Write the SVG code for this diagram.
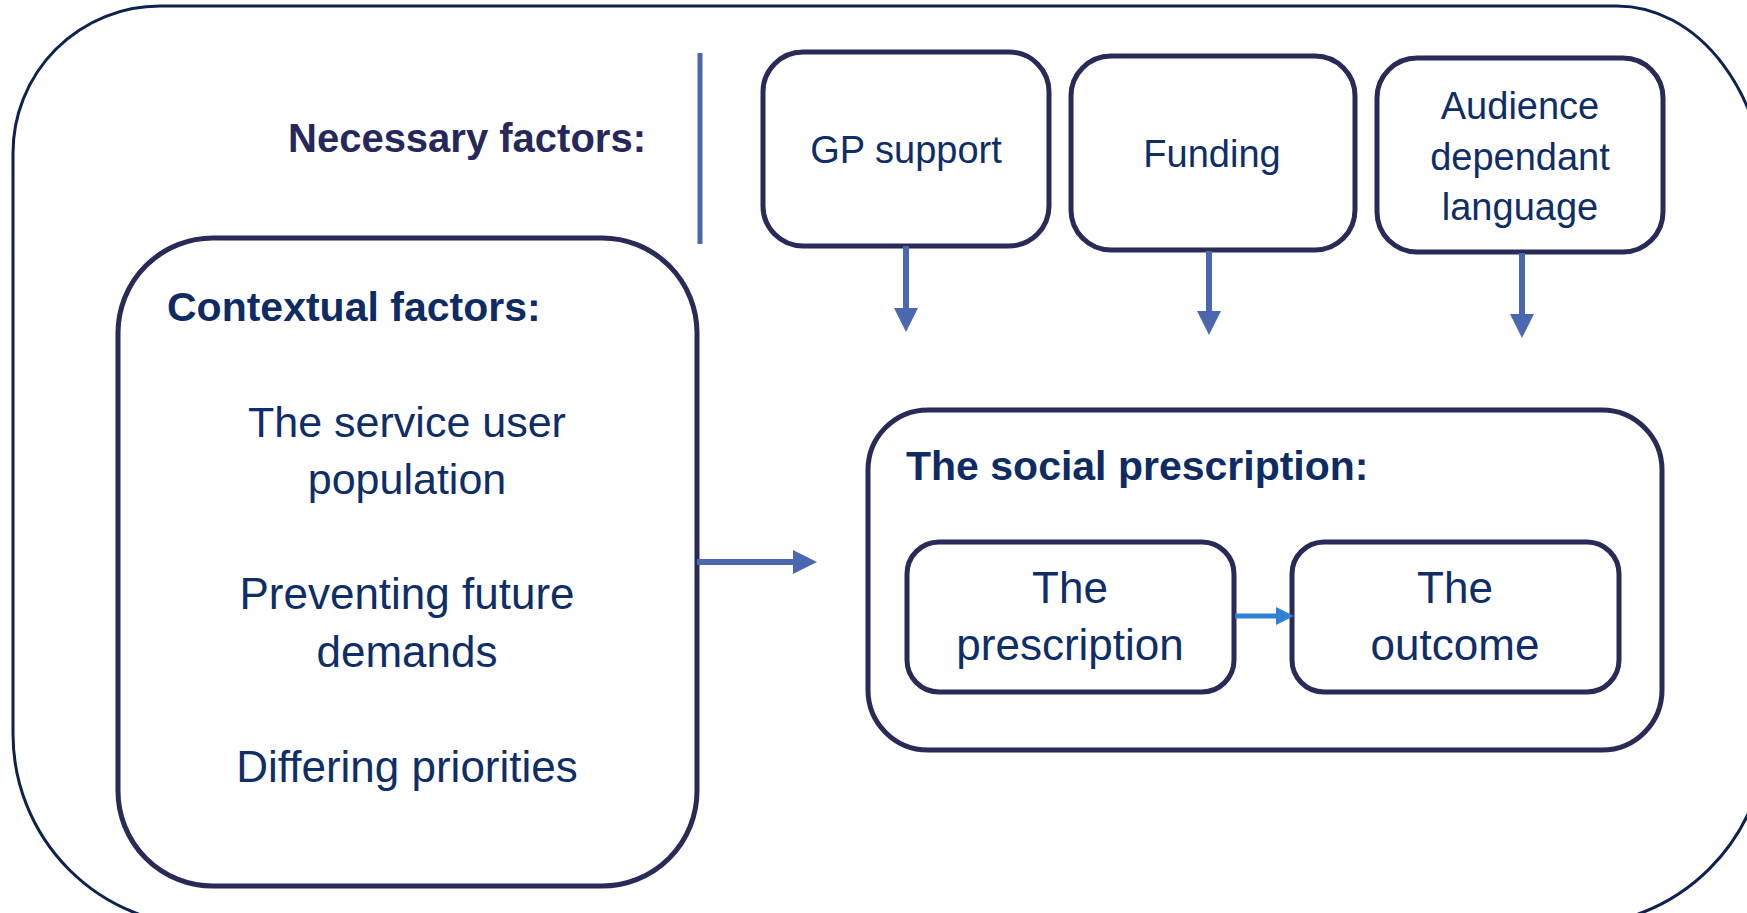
<svg xmlns="http://www.w3.org/2000/svg" width="1747" height="913" viewBox="0 0 1747 913">
  <defs>
    <style>
      .frame { fill: none; stroke: #0c2350; stroke-width: 3; }
      .box { fill: #ffffff; stroke: #282a58; stroke-width: 5; }
      .head { font-family: "Liberation Sans", Arial, sans-serif; font-weight: bold; fill: #0e2b63; }
      .head-dark { fill: #26285a; }
      .lbl { font-family: "Liberation Sans", Arial, sans-serif; fill: #0f2d66; text-anchor: middle; }
      .sm { font-size: 38px; }
      .lg { font-size: 44px; }
      .link { stroke: #4a67b0; stroke-width: 6; fill: none; }
      .link-small { stroke: #2f80d6; stroke-width: 5; fill: none; }
    </style>
    <marker id="arrow" viewBox="0 0 24 24" refX="0" refY="12" markerWidth="24" markerHeight="24" markerUnits="userSpaceOnUse" orient="auto">
      <path d="M0,0 L24,12 L0,24 Z" fill="#4a67b0"/>
    </marker>
    <marker id="arrow-small" viewBox="0 0 18 18" refX="0" refY="9" markerWidth="18" markerHeight="18" markerUnits="userSpaceOnUse" orient="auto">
      <path d="M0,0 L18,9 L0,18 Z" fill="#2f80d6"/>
    </marker>
  </defs>

  <rect width="1747" height="913" fill="#ffffff"/>

  <!-- outer frame (runs past the right and bottom edges) -->
  <g id="frame">
    <path class="frame" d="M160 6 H1617 A150 200 0 0 1 1767 206 V730 A196 196 0 0 1 1571 926 H205 A192 192 0 0 1 13 734 V153 A147 147 0 0 1 160 6 Z"/>
  </g>

  <!-- necessary factors heading and divider -->
  <g id="necessary-label">
    <text class="head head-dark" x="288" y="152" font-size="40">Necessary factors:</text>
    <line x1="700" y1="53" x2="700" y2="244" stroke="#4a67b0" stroke-width="5"/>
  </g>

  <g id="gp-support">
    <rect class="box" x="763" y="52" width="286" height="194" rx="40"/>
    <text class="lbl sm" x="906" y="163">GP support</text>
  </g>

  <g id="funding">
    <rect class="box" x="1071" y="56" width="284" height="194" rx="40"/>
    <text class="lbl sm" x="1212" y="167">Funding</text>
  </g>

  <g id="audience-language">
    <rect class="box" x="1377" y="58" width="286" height="194" rx="40"/>
    <text class="lbl sm" x="1520" y="119">Audience</text>
    <text class="lbl sm" x="1520" y="170">dependant</text>
    <text class="lbl sm" x="1520" y="220">language</text>
  </g>

  <g id="contextual-factors">
    <rect class="box" x="118" y="238" width="579" height="648" rx="95"/>
    <text class="head" x="167" y="321" font-size="41">Contextual factors:</text>
    <text class="lbl" x="407" y="437" font-size="43">The service user</text>
    <text class="lbl" x="407" y="494" font-size="43">population</text>
    <text class="lbl lg" x="407" y="609">Preventing future</text>
    <text class="lbl lg" x="407" y="667">demands</text>
    <text class="lbl lg" x="407" y="782">Differing priorities</text>
  </g>

  <g id="social-prescription">
    <rect class="box" x="868" y="410" width="794" height="340" rx="60"/>
    <text class="head" x="906" y="480" font-size="41">The social prescription:</text>
  </g>

  <g id="the-prescription">
    <rect class="box" x="907" y="542" width="327" height="150" rx="32"/>
    <text class="lbl lg" x="1070" y="603">The</text>
    <text class="lbl lg" x="1070" y="660">prescription</text>
  </g>

  <g id="the-outcome">
    <rect class="box" x="1292" y="542" width="327" height="150" rx="32"/>
    <text class="lbl lg" x="1455" y="603">The</text>
    <text class="lbl lg" x="1455" y="660">outcome</text>
  </g>

  <!-- connectors -->
  <g id="connectors">
    <line class="link" x1="906" y1="246" x2="906" y2="308" marker-end="url(#arrow)"/>
    <line class="link" x1="1209" y1="251" x2="1209" y2="311" marker-end="url(#arrow)"/>
    <line class="link" x1="1522" y1="253" x2="1522" y2="314" marker-end="url(#arrow)"/>
    <line class="link" x1="697" y1="562" x2="793" y2="562" marker-end="url(#arrow)"/>
    <line class="link-small" x1="1235" y1="616" x2="1276" y2="616" marker-end="url(#arrow-small)"/>
  </g>
</svg>
